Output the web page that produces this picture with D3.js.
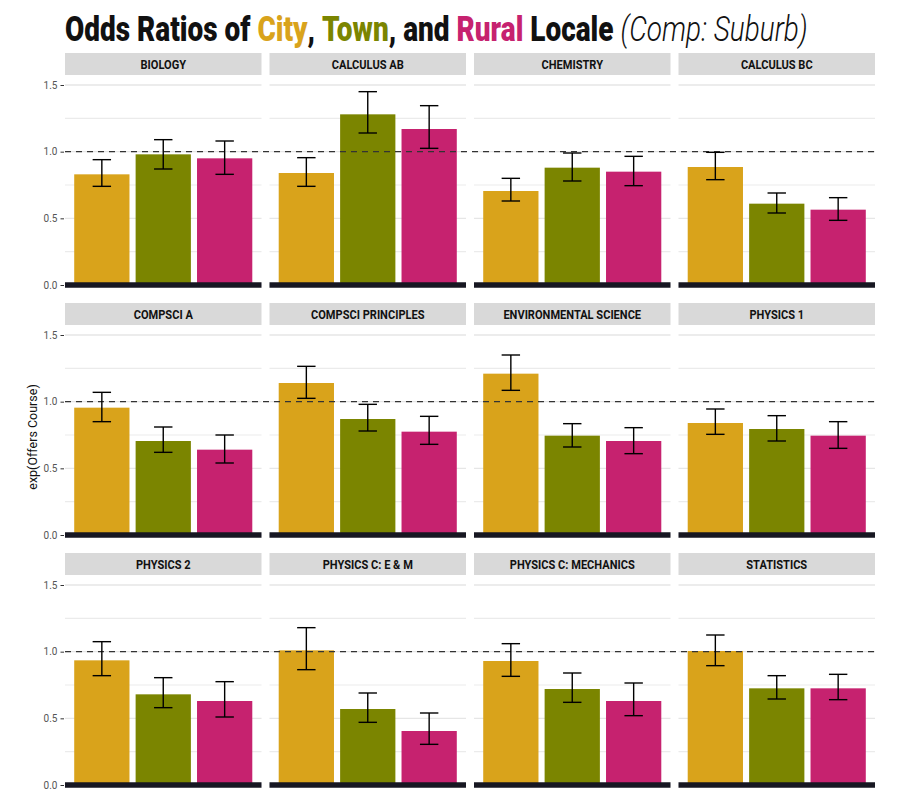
<!DOCTYPE html>
<html>
<head>
<meta charset="utf-8">
<script src="https://cdn.jsdelivr.net/npm/d3@7"></script>
<style>
  html, body { margin: 0; padding: 0; background: #ffffff; }
  svg { display: block; font-family: Roboto, "Noto Sans", sans-serif; }
</style>
</head>
<body>
<svg id="chart" width="900" height="800"></svg>
<script>
// ---- data ----
const courses = ["BIOLOGY", "CALCULUS AB", "CHEMISTRY", "CALCULUS BC",
                 "COMPSCI A", "COMPSCI PRINCIPLES", "ENVIRONMENTAL SCIENCE", "PHYSICS 1",
                 "PHYSICS 2", "PHYSICS C: E & M", "PHYSICS C: MECHANICS", "STATISTICS"];
const locales = ["City", "Town", "Rural"];
const localeColors = ["#D9A31B", "#7B8500", "#C6226F"];

const cityEst  = [0.83, 0.84, 0.705, 0.885, 0.955, 1.14, 1.21, 0.84, 0.935, 1.01, 0.93, 1.005];
const cityLow  = [0.74, 0.74, 0.63, 0.79, 0.85, 1.025, 1.085, 0.755, 0.82, 0.865, 0.815, 0.895];
const cityHigh = [0.94, 0.955, 0.80, 0.995, 1.07, 1.265, 1.35, 0.945, 1.075, 1.18, 1.06, 1.125];

const townEst  = [0.98, 1.28, 0.88, 0.61, 0.705, 0.87, 0.745, 0.795, 0.68, 0.57, 0.72, 0.725];
const townLow  = [0.87, 1.14, 0.78, 0.54, 0.62, 0.78, 0.66, 0.705, 0.58, 0.47, 0.62, 0.645];
const townHigh = [1.09, 1.45, 0.99, 0.69, 0.81, 0.98, 0.835, 0.895, 0.805, 0.69, 0.84, 0.82];

const ruralEst  = [0.95, 1.17, 0.85, 0.565, 0.64, 0.775, 0.705, 0.745, 0.63, 0.405, 0.63, 0.725];
const ruralLow  = [0.83, 1.025, 0.745, 0.485, 0.54, 0.68, 0.61, 0.65, 0.51, 0.305, 0.52, 0.64];
const ruralHigh = [1.08, 1.345, 0.965, 0.655, 0.75, 0.89, 0.805, 0.85, 0.775, 0.54, 0.765, 0.83];

const yTicks = [0, 0.5, 1.0, 1.5];
const yMinor = [0.25, 0.75, 1.25];
const refLine = 1.0;
const yLabel = "exp(Offers Course)";

// build table
const est = [cityEst, townEst, ruralEst];
const low = [cityLow, townLow, ruralLow];
const high = [cityHigh, townHigh, ruralHigh];
const table = courses.map((c, i) => ({
  course: c,
  values: locales.map((l, j) => ({ locale: l, est: est[j][i], low: low[j][i], high: high[j][i], color: localeColors[j] }))
}));

// ---- layout ----
const svg = d3.select("#chart");
const ncol = 4;
const left = 65, right = 875, gap = 8;
const panelW = (right - left - gap * (ncol - 1)) / ncol;
const rowTop0 = 53;       // strip top of first row
const rowStep = 250;
const stripH = 22;
const zeroOffset = 232;   // from strip top to y=0
const plotH = 200;        // pixels for 0..1.5

function scalesFor(i) {
  const col = i % ncol, row = Math.floor(i / ncol);
  const x0 = left + col * (panelW + gap);
  const top = rowTop0 + row * rowStep;
  const zeroY = top + zeroOffset;
  const y = d3.scaleLinear().domain([0, 1.5]).range([zeroY, zeroY - plotH]);
  const x = d3.scaleBand().domain(locales).range([x0, x0 + panelW]).paddingInner(0.1).paddingOuter(0.15);
  return { col, row, x0, top, y, x };
}

// ---- title ----
const title = svg.append("text")
  .attr("x", 0).attr("y", 0)
  .attr("font-size", 35).attr("font-weight", 900).attr("fill", "#111");
const parts = [
  { t: "Odds Ratios of ", c: "#111" },
  { t: "City", c: localeColors[0] },
  { t: ", ", c: "#111" },
  { t: "Town", c: localeColors[1] },
  { t: ", and ", c: "#111" },
  { t: "Rural", c: localeColors[2] },
  { t: " Locale ", c: "#111" }
];
parts.forEach(p => title.append("tspan").attr("fill", p.c).text(p.t));
title.append("tspan").attr("font-weight", 300).attr("font-style", "italic").attr("fill", "#111").text("(Comp: Suburb)");
const tw = title.node().getComputedTextLength();
title.attr("transform", `translate(65,41) scale(${740 / tw},1)`);

// ---- y label ----
svg.append("text")
  .attr("transform", "translate(37,437) rotate(-90)")
  .attr("text-anchor", "middle")
  .attr("font-size", 12.5).attr("fill", "#111")
  .text(yLabel);

// ---- layer 1: panels (strip, grid, axis, bars, zero line) ----
table.forEach((d, i) => {
  const { col, x0, top, y, x } = scalesFor(i);
  const g = svg.append("g");

  // strip
  g.append("rect").attr("x", x0).attr("y", top).attr("width", panelW).attr("height", stripH).attr("fill", "#d9d9d9");
  g.append("text")
    .attr("text-anchor", "middle")
    .attr("font-size", 13.5).attr("font-weight", 700).attr("fill", "#111")
    .attr("transform", `translate(${x0 + panelW / 2},${top + stripH / 2 + 4.6}) scale(0.82,1)`)
    .text(d.course);

  // gridlines
  g.selectAll(".gmin").data(yMinor).enter().append("line")
    .attr("x1", x0).attr("x2", x0 + panelW)
    .attr("y1", v => y(v)).attr("y2", v => y(v))
    .attr("stroke", "#ebebeb").attr("stroke-width", 1.2);
  g.selectAll(".gmaj").data(yTicks).enter().append("line")
    .attr("x1", x0).attr("x2", x0 + panelW)
    .attr("y1", v => y(v)).attr("y2", v => y(v))
    .attr("stroke", "#e6e6e6").attr("stroke-width", 1.4);

  // y axis on first column
  if (col === 0) {
    const ax = d3.axisLeft(y).tickValues(yTicks).tickFormat(d3.format(".1f")).tickSize(3.5).tickPadding(3);
    const axg = svg.append("g").attr("transform", `translate(${x0 - 1},0)`).call(ax);
    axg.select(".domain").remove();
    axg.selectAll(".tick line").attr("stroke", "#333").attr("stroke-width", 1);
    axg.selectAll(".tick text").attr("fill", "#555").attr("font-size", 10)
      .attr("font-family", "Roboto, sans-serif");
  }

  // bars
  g.selectAll(".bar").data(d.values).enter().append("rect")
    .attr("x", v => x(v.locale)).attr("width", x.bandwidth())
    .attr("y", v => y(v.est)).attr("height", v => y(0) - y(v.est))
    .attr("fill", v => v.color);

  // zero line
  g.append("line").attr("x1", x0).attr("x2", x0 + panelW)
    .attr("y1", y(0)).attr("y2", y(0))
    .attr("stroke", "#171722").attr("stroke-width", 5.5);
});

// ---- layer 2: reference dashed line across each row ----
table.forEach((d, i) => {
  const { col, y } = scalesFor(i);
  if (col !== 0) return;
  svg.append("line")
    .attr("x1", left).attr("x2", right)
    .attr("y1", y(refLine)).attr("y2", y(refLine))
    .attr("stroke", "#333").attr("stroke-width", 1.3).attr("stroke-dasharray", "6,5");
});

// ---- layer 3: error bars ----
table.forEach((d, i) => {
  const { y, x } = scalesFor(i);
  const cap = 0.3 * x.step();
  const cx = v => x(v.locale) + x.bandwidth() / 2;
  const eb = svg.append("g").selectAll(".eb").data(d.values).enter().append("g")
    .attr("stroke", "#000").attr("stroke-width", 1.4);
  eb.append("line").attr("x1", cx).attr("x2", cx)
    .attr("y1", v => y(v.low)).attr("y2", v => y(v.high));
  eb.append("line").attr("x1", v => cx(v) - cap / 2).attr("x2", v => cx(v) + cap / 2)
    .attr("y1", v => y(v.low)).attr("y2", v => y(v.low));
  eb.append("line").attr("x1", v => cx(v) - cap / 2).attr("x2", v => cx(v) + cap / 2)
    .attr("y1", v => y(v.high)).attr("y2", v => y(v.high));
});
</script>
</body>
</html>
